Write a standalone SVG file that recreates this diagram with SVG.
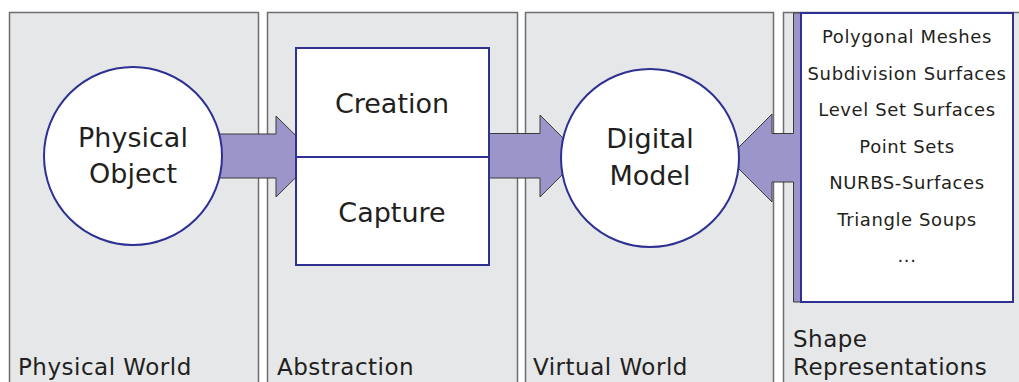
<svg xmlns="http://www.w3.org/2000/svg" width="1019" height="382" viewBox="0 0 1019 382">
  <style>
    .panel { fill: #e6e7e9; stroke: #6d6e71; stroke-width: 1.5; }
    .arrow { fill: #9c95c9; stroke: #3a3a3a; stroke-width: 1; stroke-linejoin: miter; }
    .node { fill: #ffffff; stroke: #2e3192; stroke-width: 2; }
    .big { font-family: "DejaVu Sans", "Liberation Sans", sans-serif; font-size: 27px; fill: #231f20; text-anchor: middle; }
    .list { font-family: "DejaVu Sans", "Liberation Sans", sans-serif; font-size: 18px; letter-spacing: 0.6px; fill: #231f20; text-anchor: middle; }
    .label { font-family: "DejaVu Sans", "Liberation Sans", sans-serif; font-size: 23px; letter-spacing: 0.5px; fill: #231f20; }
  </style>
  <rect width="1019" height="382" fill="#ffffff"/>

  <!-- column panels -->
  <g id="panels">
    <rect class="panel" x="9.5" y="12.5" width="249" height="400"/>
    <rect class="panel" x="267.5" y="12.5" width="250" height="400"/>
    <rect class="panel" x="525.5" y="12.5" width="248" height="400"/>
    <rect class="panel" x="783.5" y="12.5" width="250" height="400"/>
    <text class="label" x="18" y="375">Physical World</text>
    <text class="label" x="277" y="375">Abstraction</text>
    <text class="label" x="533" y="375">Virtual World</text>
    <text class="label" x="793" y="347">Shape</text>
    <text class="label" x="793" y="375">Representations</text>
  </g>

  <!-- block arrows -->
  <g id="connectors">
    <polygon class="arrow" points="180,134 276,134 276,116 317,156.5 276,197 276,178 180,178"/>
    <polygon class="arrow" points="470,133.5 540,133.5 540,115 581,156 540,197 540,178 470,178"/>
    <polygon class="arrow" points="728,158 772,114 772,133.5 793.5,133.5 793.5,13 806,13 806,302 793.5,302 793.5,182 772,182 772,202"/>
  </g>

  <g id="physical-object">
    <circle class="node" cx="133" cy="156" r="89"/>
    <text class="big" x="133" y="147">Physical</text>
    <text class="big" x="133" y="183">Object</text>
  </g>

  <g id="creation">
    <rect class="node" x="296" y="48" width="193" height="109"/>
    <text class="big" x="392" y="113">Creation</text>
  </g>

  <g id="capture">
    <rect class="node" x="296" y="157" width="193" height="108"/>
    <text class="big" x="392" y="222">Capture</text>
  </g>

  <g id="digital-model">
    <circle class="node" cx="650" cy="158" r="89"/>
    <text class="big" x="650" y="148">Digital</text>
    <text class="big" x="650" y="185">Model</text>
  </g>

  <g id="representations">
    <rect class="node" x="801" y="13" width="212" height="289"/>
    <text class="list" x="907" y="43">Polygonal Meshes</text>
    <text class="list" x="907" y="79.5">Subdivision Surfaces</text>
    <text class="list" x="907" y="116">Level Set Surfaces</text>
    <text class="list" x="907" y="152.5">Point Sets</text>
    <text class="list" x="907" y="189">NURBS-Surfaces</text>
    <text class="list" x="907" y="225.5">Triangle Soups</text>
    <text class="list" x="907" y="262">...</text>
  </g>
</svg>
